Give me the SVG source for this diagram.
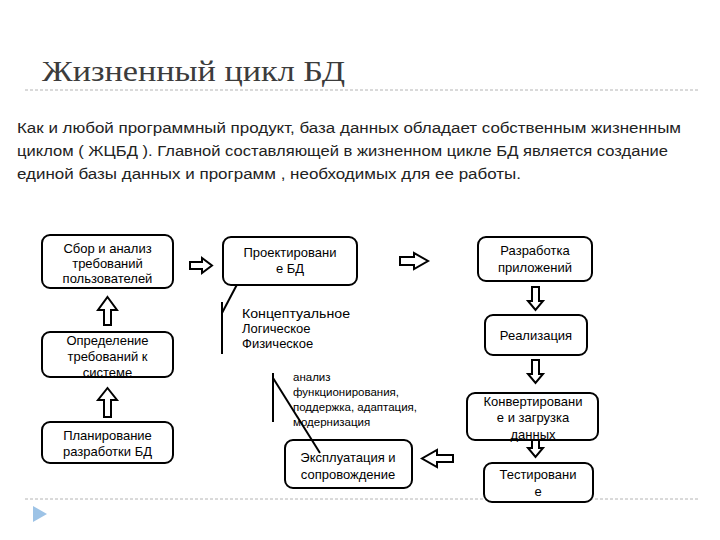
<svg xmlns="http://www.w3.org/2000/svg" width="720" height="540" viewBox="0 0 720 540">
<style>
.box{fill:#fff;stroke:#000;stroke-width:2}
.arr{fill:#fff;stroke:#000;stroke-width:2;stroke-linejoin:miter}
.t{font-family:"Liberation Sans",Arial,sans-serif;font-size:13px;fill:#000;text-anchor:middle}
.lbl{font-family:"Liberation Sans",Arial,sans-serif;font-size:13px;fill:#000}
.sm{font-family:"Liberation Sans",Arial,sans-serif;font-size:11.5px;fill:#000}
.body{font-family:"Liberation Sans",Arial,sans-serif;font-size:15.5px;fill:#222}
.dash{stroke:#b4b4b4;stroke-width:1;stroke-dasharray:3 2}
.ln{stroke:#000;stroke-width:2;fill:none}
</style>
<rect width="720" height="540" fill="#fff"/>
<text x="42" y="81" font-family="'Liberation Serif','DejaVu Serif',serif" font-size="30" fill="#3c3c3c" textLength="303" lengthAdjust="spacingAndGlyphs">Жизненный цикл БД</text>
<line class="dash" x1="25" y1="90" x2="700" y2="90"/>
<text class="body" x="17" y="133" textLength="664" lengthAdjust="spacingAndGlyphs">Как и любой программный продукт,  база данных обладает собственным жизненным</text>
<text class="body" x="17" y="156" textLength="651" lengthAdjust="spacingAndGlyphs">циклом ( ЖЦБД ).  Главной составляющей в жизненном цикле БД является создание</text>
<text class="body" x="17" y="179" textLength="504" lengthAdjust="spacingAndGlyphs">единой базы  данных и программ  , необходимых для ее работы.</text>
<line class="dash" x1="25" y1="499" x2="700" y2="499"/>
<polygon points="33,506 47,514 33,522" fill="#9dc3e6"/>
<g id="connectors">
<polygon class="arr" points="190,262 202,262 202,258 212,265.5 202,273 202,269 190,269"/>
<polygon class="arr" points="400,257 414,257 414,253 428,261 414,269 414,265 400,265"/>
<polygon class="arr" points="107.5,297 117,310 111,310 111,325 104,325 104,310 98,310"/>
<polygon class="arr" points="107.5,388 117,400 111,400 111,417 104,417 104,400 98,400"/>
<polygon class="arr" points="532,287 539,287 539,301 543,301 535.5,310 528,301 532,301"/>
<polygon class="arr" points="532,360 539,360 539,374 543,374 535.5,383 528,374 532,374"/>
<polygon class="arr" points="532,440 539,440 539,448 543,448 535.5,457 528,448 532,448"/>
<polygon class="arr" points="453,455 437,455 437,450 422,458.5 437,467 437,462 453,462"/>
<line class="ln" x1="242" y1="275" x2="222" y2="313"/>
<line class="ln" x1="222" y1="302" x2="222" y2="354"/>
<line class="ln" x1="273" y1="373" x2="273" y2="422"/>
</g>
<g id="n1"><rect class="box" x="42" y="235" width="131" height="53" rx="8"/>
<text class="t" x="107.5" y="253">Сбор и анализ</text><text class="t" x="107.5" y="268">требований</text><text class="t" x="107.5" y="283">пользователей</text></g>
<g id="n2"><rect class="box" x="42" y="332" width="131" height="45" rx="8"/>
<text class="t" x="107.5" y="345">Определение</text><text class="t" x="107.5" y="361">требований к</text><text class="t" x="107.5" y="377">системе</text></g>
<g id="n3"><rect class="box" x="42" y="422" width="131" height="41" rx="8"/>
<text class="t" x="107.5" y="440">Планирование</text><text class="t" x="107.5" y="456">разработки БД</text></g>
<g id="n4"><rect class="box" x="223" y="237" width="134" height="48" rx="8"/>
<text class="t" x="290" y="257">Проектировани</text><text class="t" x="290" y="273">е БД</text></g>
<g id="n4lbl"><text class="lbl" x="242" y="318" textLength="108" lengthAdjust="spacingAndGlyphs">Концептуальное</text>
<text class="lbl" x="242" y="333">Логическое</text><text class="lbl" x="242" y="348">Физическое</text></g>
<g id="n5"><rect class="box" x="478" y="237" width="114" height="44" rx="8"/>
<text class="t" x="535" y="255">Разработка</text><text class="t" x="535" y="272">приложений</text></g>
<g id="n6"><rect class="box" x="485" y="315" width="102" height="40" rx="8"/>
<text class="t" x="536" y="340">Реализация</text></g>
<g id="n7"><rect class="box" x="467" y="393" width="131" height="47" rx="8"/>
<text class="t" x="533" y="406">Конвертировани</text><text class="t" x="533" y="422">е и загрузка</text><text class="t" x="533" y="439">данных</text></g>
<g id="n8"><rect class="box" x="484" y="463" width="109" height="39" rx="8"/>
<text class="t" x="538" y="479">Тестировани</text><text class="t" x="538" y="496">е</text></g>
<g id="n9"><rect class="box" x="285" y="440" width="127" height="48" rx="8"/>
<text class="t" x="348" y="462">Эксплуатация и</text><text class="t" x="348" y="479">сопровождение</text></g>
<g id="n9lbl"><text class="sm" x="293" y="381">анализ</text><text class="sm" x="293" y="396">функционирования,</text>
<text class="sm" x="293" y="411">поддержка, адаптация,</text><text class="sm" x="293" y="426">модернизация</text></g>
<g id="connector-over"><line class="ln" x1="273" y1="378" x2="320" y2="453"/></g>
</svg>
